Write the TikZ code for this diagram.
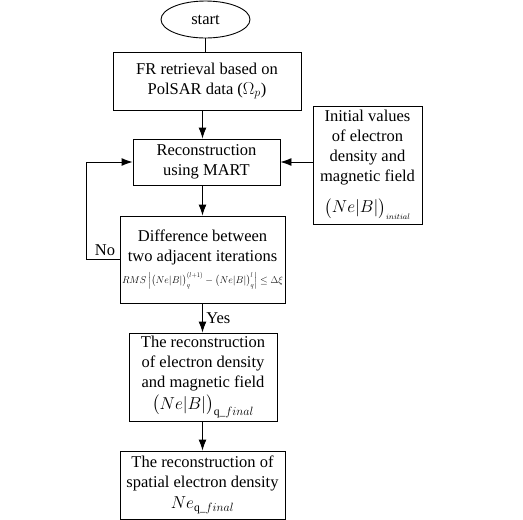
\documentclass[tikz,border=0pt]{standalone}
\usepackage{amsmath}
\usepackage{amssymb}
\usepackage{graphicx}
\usepackage{fontspec}
\setmainfont{Liberation Serif}
\usetikzlibrary{shapes.geometric,arrows.meta}
\tikzset{box/.style={draw, rectangle, align=center, inner sep=0pt, line width=0.9pt},
         arr/.style={-{Latex[length=11pt,width=8pt]}, line width=0.9pt}}

\begin{document}
\begin{tikzpicture}[x=1pt,y=-1pt,font=\fontsize{16.5}{20}\selectfont]
\useasboundingbox (0,0) rectangle (523,520);
\node[draw, ellipse, minimum width=89pt, minimum height=37pt, inner sep=0pt, line width=0.9pt] (start) at (205.5,19.5) {start};
\node[box, minimum width=188pt, minimum height=58pt] (fr) at (207,81) {FR retrieval based on\\PolSAR data ($\Omega_p$)};
\node[box, minimum width=147pt, minimum height=46pt] (recon) at (206.5,162) {Reconstruction\\using MART};
\node[box, minimum width=109pt, minimum height=118pt] (init) at (367.5,165) {Initial values\\of electron\\density and\\magnetic field\\[11pt]$\bigl(Ne|B|\bigr)_{\scriptscriptstyle initial}$};
\node[box, minimum width=165pt, minimum height=87pt] (diff) at (202.5,259.5) {Difference between\\two adjacent iterations\\[2pt]\resizebox{161pt}{!}{$RMS\left|\bigl(Ne|B|\bigr)_q^{(l+1)}-\bigl(Ne|B|\bigr)_q^{l}\right|\le\Delta\xi$}};
\node[box, minimum width=148pt, minimum height=88pt] (final) at (203,377) {The reconstruction\\of electron density\\and magnetic field\\[2pt]$\bigl(Ne|B|\bigr)_{\mathrm{q}\_final}$};
\node[box, minimum width=165pt, minimum height=68pt] (spatial) at (202.5,485) {The reconstruction of\\spatial electron density\\[1pt]$Ne_{\mathrm{q}\_final}$};
% main line
\draw[line width=0.9pt] (start) -- (start |- fr.north);
\draw[arr] (fr.south -| diff) -- (recon.north -| diff);
\draw[arr] (recon.south -| diff) -- (diff.north);
\draw[arr] (diff.south) -- node[right] {Yes} (final.north -| diff);
\draw[arr] (final.south -| diff) -- (spatial.north);
% side inputs
\draw[arr] (init.west |- recon.east) -- (recon.east);
\draw[arr] (diff.west) -- node[above, xshift=2pt] {No} ++(-33,0) |- (recon.west);
\end{tikzpicture}
\end{document}
